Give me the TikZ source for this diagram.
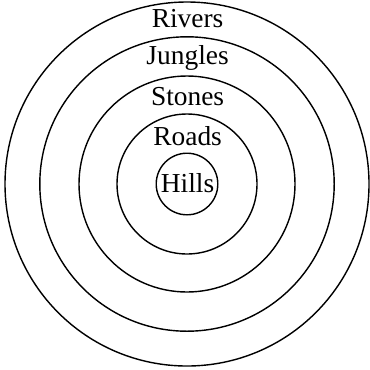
\documentclass[tikz,border=0pt]{standalone}
\usepackage{fontspec}
\setmainfont{Liberation Serif}
\usetikzlibrary{positioning}

\tikzset{
  ring/.style={line width=1pt},
  ringlabel/.style={anchor=base, inner sep=0pt, font=\fontsize{19.5}{22}\selectfont}
}

\begin{document}
\begin{tikzpicture}
  \useasboundingbox (0,0) rectangle (9.25,9.225);
  \coordinate (c) at (4.675,4.625);

  % Rings, outer to inner
  \draw[ring] (c) circle (4.55);
  \draw[ring] (c) circle (3.68);
  \draw[ring] (c) circle (2.70);
  \draw[ring] (c) circle (1.75);
  \draw[ring] (c) circle (0.77);

  % Labels
  \node[ringlabel] (rivers) at (4.69,8.54) {Rivers};
  \node[ringlabel] (jungles) at (4.69,7.62) {Jungles};
  \node[ringlabel] (stones) at (4.69,6.58) {Stones};
  \node[ringlabel] (roads) at (4.69,5.60) {Roads};
  \node[ringlabel] (hills) at (4.69,4.41) {Hills};

\end{tikzpicture}
\end{document}
